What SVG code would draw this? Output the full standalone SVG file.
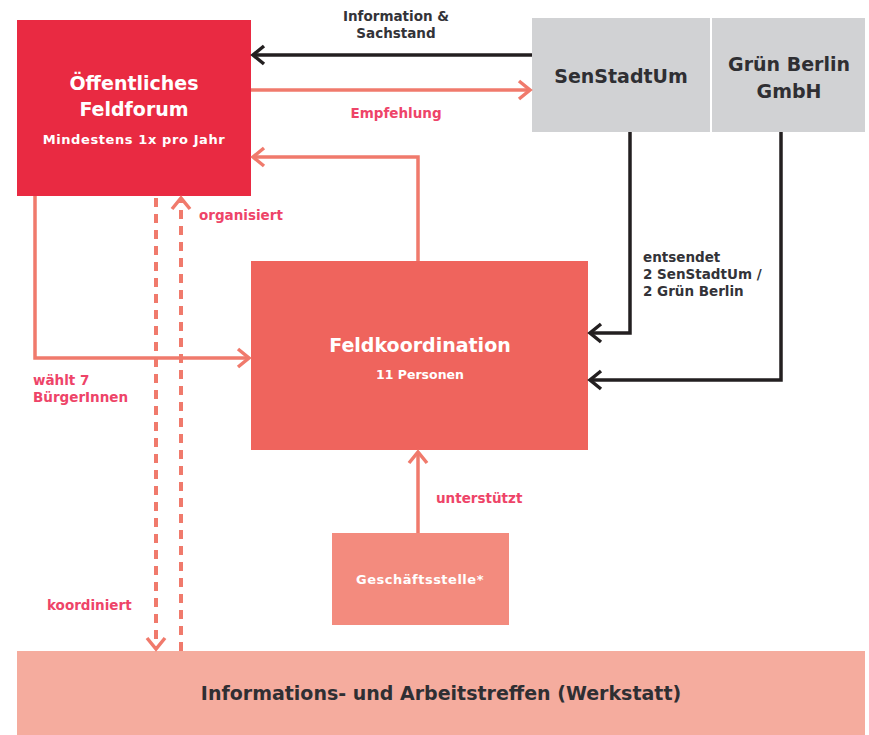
<svg xmlns="http://www.w3.org/2000/svg" width="869" height="735" viewBox="0 0 869 735">
<style>
text{font-family:"DejaVu Sans","Liberation Sans",sans-serif;font-weight:700}
.w{fill:#fff}
.t{font-size:19px;text-anchor:middle}
.s{font-size:12.5px;text-anchor:middle}
.g{fill:#2f2f33;font-size:19px;text-anchor:middle}
.lp{fill:#ee4468;font-size:13.5px}
.ld{fill:#333338;font-size:13.5px}
.cs{fill:none;stroke:#f07a6c;stroke-width:3.5}
.cd{fill:none;stroke:#f07a6c;stroke-width:4;stroke-dasharray:9 7}
.cb{fill:none;stroke:#231f20;stroke-width:3.5}
</style>
<defs>
<marker id="ap" markerUnits="userSpaceOnUse" viewBox="-12 -12 14 24" refX="0" refY="0" markerWidth="14" markerHeight="24" orient="auto" overflow="visible">
<path d="M-11,-9 L0,0 L-11,9" fill="none" stroke="#f07a6c" stroke-width="3.5"/>
</marker>
<marker id="ab" markerUnits="userSpaceOnUse" viewBox="-12 -12 14 24" refX="0" refY="0" markerWidth="14" markerHeight="24" orient="auto" overflow="visible">
<path d="M-11,-9 L0,0 L-11,9" fill="none" stroke="#231f20" stroke-width="3.5"/>
</marker>
</defs>
<g id="feldforum">
<rect x="17" y="20" width="234" height="176" fill="#e92a42"/>
<text class="w t" x="134" y="90">Öffentliches</text>
<text class="w t" x="134" y="116">Feldforum</text>
<text class="w s" x="134" y="144" style="font-size:13px;letter-spacing:0.6px">Mindestens 1x pro Jahr</text>
</g>
<g id="senstadtum">
<rect x="532" y="18" width="178" height="114" fill="#d1d2d4"/>
<text class="g" x="621" y="83">SenStadtUm</text>
</g>
<g id="gruen">
<rect x="712" y="18" width="153" height="114" fill="#d1d2d4"/>
<text class="g" x="789" y="71">Grün Berlin</text>
<text class="g" x="789" y="98">GmbH</text>
</g>
<g id="feldkoordination">
<rect x="251" y="261" width="337" height="189" fill="#ef645d"/>
<text class="w t" x="420" y="352">Feldkoordination</text>
<text class="w s" x="420" y="379">11 Personen</text>
</g>
<g id="geschaeftsstelle">
<rect x="332" y="533" width="177" height="92" fill="#f38b7e"/>
<text class="w s" x="420" y="584" style="font-size:13px;letter-spacing:0.5px">Geschäftsstelle*</text>
</g>
<g id="werkstatt">
<rect x="17" y="651" width="848" height="84" fill="#f5ac9e"/>
<text x="441" y="700" text-anchor="middle" font-size="19" fill="#2f2f33">Informations- und Arbeitstreffen (Werkstatt)</text>
</g>
<g id="connectors">
<path class="cb" d="M532,55 H253" marker-end="url(#ab)"/>
<path class="cs" d="M251,90 H530" marker-end="url(#ap)"/>
<path class="cs" d="M418,261 V157 H253" marker-end="url(#ap)"/>
<path class="cs" d="M35,196 V358 H249" marker-end="url(#ap)"/>
<path class="cd" d="M156,198 V649" marker-end="url(#ap)"/>
<path class="cd" d="M181,651 V198" marker-end="url(#ap)"/>
<path class="cs" d="M418,533 V452" marker-end="url(#ap)"/>
<path class="cb" d="M630,132 V333 H590" marker-end="url(#ab)"/>
<path class="cb" d="M781,132 V380 H590" marker-end="url(#ab)"/>
</g>
<g id="labels">
<text class="ld" x="396" y="21" text-anchor="middle">Information &amp;</text>
<text class="ld" x="396" y="38" text-anchor="middle">Sachstand</text>
<text class="lp" x="396" y="118" text-anchor="middle">Empfehlung</text>
<text class="lp" x="199" y="220">organisiert</text>
<text class="lp" x="33" y="385">wählt 7</text>
<text class="lp" x="33" y="402">BürgerInnen</text>
<text class="lp" x="47" y="610">koordiniert</text>
<text class="lp" x="436" y="503">unterstützt</text>
<text class="ld" x="643" y="262">entsendet</text>
<text class="ld" x="643" y="279">2 SenStadtUm /</text>
<text class="ld" x="643" y="296">2 Grün Berlin</text>
</g>
</svg>
